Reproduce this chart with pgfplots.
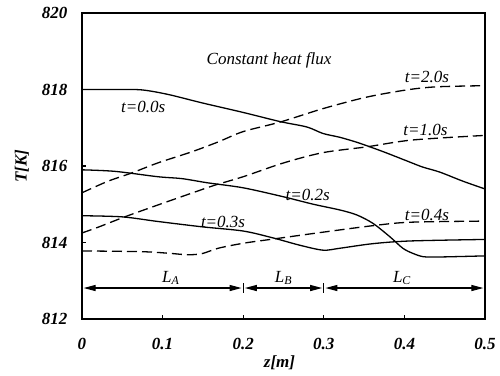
\documentclass[border=0pt]{standalone}
\usepackage{fontspec}
\setmainfont{Liberation Serif}
\usepackage{pgfplots}
\pgfplotsset{compat=1.18}
\usetikzlibrary{arrows.meta}
\newcommand{\lf}{\fontsize{17}{20}\selectfont}
\begin{document}
\begin{tikzpicture}[x=1pt,y=1pt]
\useasboundingbox (-82,-56) rectangle (418,319);
\begin{axis}[
  at={(0,0)}, anchor=south west,
  scale only axis, width=403pt, height=306pt,
  xmin=0, xmax=0.5, ymin=812, ymax=820,
  xtick={0,0.1,0.2,0.3,0.4,0.5},
  xticklabels={0,0.1,0.2,0.3,0.4,0.5},
  ytick={812,814,816,818,820},
  yticklabels={812,814,816,818,820},
  xtick pos=bottom, ytick pos=left,
  tick align=inside, major tick length=4pt,
  axis line style={line width=1.6pt},
  tick style={line width=1.2pt, black},
  ticklabel style={font=\lf\bfseries\itshape},
  xticklabel style={yshift=-16pt},
  yticklabel style={xshift=-11pt},
  xlabel={z[m]}, ylabel={T[K]},
  label style={font=\lf\bfseries\itshape},
  xlabel style={at={(axis description cs:0.49,-0.144)}, anchor=center},
  ylabel style={at={(axis description cs:-0.149,0.5)}, anchor=center},
  no markers,
  curve/.style={black, line width=1.3pt, smooth, tension=0.5, mark=none},
  dcurve/.style={curve, dash pattern=on 10pt off 5pt},
  dim/.style={black, sharp plot, line width=1.2pt, mark=none},
  clip=false,
]
% t=0.0s
\addplot[curve] coordinates {(0,818.0) (0.04,818.0) (0.074,817.99) (0.107,817.87) (0.149,817.65) (0.2,817.4) (0.246,817.16) (0.279,817.02) (0.299,816.85) (0.32,816.75) (0.341,816.62) (0.36,816.48) (0.378,816.34) (0.407,816.1) (0.423,815.97) (0.444,815.84) (0.473,815.6) (0.5,815.4)};
% t=2.0s
\addplot[dcurve] coordinates {(0,815.3) (0.032,815.6) (0.062,815.82) (0.094,816.08) (0.136,816.37) (0.169,816.63) (0.2,816.9) (0.246,817.15) (0.299,817.5) (0.353,817.8) (0.403,817.99) (0.44,818.07) (0.5,818.1)};
% t=1.0s
\addplot[dcurve] coordinates {(0,814.25) (0.02,814.4) (0.053,814.67) (0.094,814.98) (0.136,815.29) (0.165,815.5) (0.2,815.72) (0.25,816.08) (0.299,816.35) (0.353,816.5) (0.41,816.68) (0.5,816.8)};
% t=0.2s
\addplot[curve] coordinates {(0,815.9) (0.041,815.86) (0.094,815.72) (0.124,815.67) (0.156,815.56) (0.2,815.43) (0.249,815.2) (0.287,815.0) (0.32,814.85) (0.341,814.72) (0.361,814.5) (0.382,814.15) (0.398,813.85) (0.41,813.72) (0.423,813.63) (0.44,813.62) (0.5,813.65)};
% t=0.3s
\addplot[curve] coordinates {(0,814.7) (0.05,814.67) (0.094,814.55) (0.149,814.41) (0.2,814.3) (0.237,814.12) (0.27,813.93) (0.299,813.8) (0.32,813.85) (0.361,813.97) (0.407,814.04) (0.5,814.08)};
% t=0.4s
\addplot[dcurve] coordinates {(0,813.78) (0.074,813.76) (0.107,813.72) (0.131,813.68) (0.149,813.71) (0.169,813.85) (0.2,813.98) (0.237,814.09) (0.299,814.27) (0.361,814.44) (0.407,814.53) (0.5,814.56)};
% dimension arrows
\addplot[dim, {Triangle[length=12pt,width=6pt]}-{Triangle[length=12pt,width=6pt]}] coordinates {(0.002,812.81) (0.198,812.81)};
\addplot[dim, {Triangle[length=12pt,width=6pt]}-{Triangle[length=12pt,width=6pt]}] coordinates {(0.202,812.81) (0.298,812.81)};
\addplot[dim, {Triangle[length=12pt,width=6pt]}-{Triangle[length=12pt,width=6pt]}] coordinates {(0.302,812.81) (0.498,812.81)};
\addplot[dim] coordinates {(0.2,812.68) (0.2,812.94)};
\addplot[dim] coordinates {(0.3,812.68) (0.3,812.94)};
% labels
\node[font=\lf\itshape] at (axis cs:0.232,818.77) {Constant heat flux};
\node[font=\lf\itshape] at (axis cs:0.076,817.54) {t=0.0s};
\node[font=\lf\itshape] at (axis cs:0.428,818.33) {t=2.0s};
\node[font=\lf\itshape] at (axis cs:0.426,816.94) {t=1.0s};
\node[font=\lf\itshape] at (axis cs:0.28,815.24) {t=0.2s};
\node[font=\lf\itshape] at (axis cs:0.175,814.54) {t=0.3s};
\node[font=\lf\itshape] at (axis cs:0.428,814.72) {t=0.4s};
\node[font=\lf\itshape] at (axis cs:0.11,813.07) {L\textsubscript{A}};
\node[font=\lf\itshape] at (axis cs:0.25,813.07) {L\textsubscript{B}};
\node[font=\lf\itshape] at (axis cs:0.397,813.07) {L\textsubscript{C}};
\end{axis}
\end{tikzpicture}
\end{document}
